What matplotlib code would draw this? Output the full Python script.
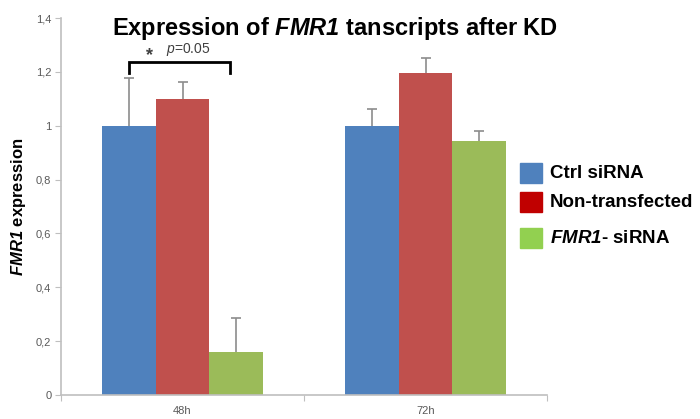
import numpy as np
import matplotlib.pyplot as plt
from matplotlib.patches import Rectangle

plt.rcParams["font.family"] = ["Liberation Sans", "DejaVu Sans"]
plt.rcParams["mathtext.fontset"] = "custom"
plt.rcParams["mathtext.rm"] = "Liberation Sans"
plt.rcParams["mathtext.it"] = "Liberation Sans:italic"
plt.rcParams["mathtext.bf"] = "Liberation Sans:bold"
plt.rcParams["mathtext.bfit"] = "Liberation Sans:italic:bold"

# data
timepoints = ["48h", "72h"]
series = ["Ctrl siRNA", "Non-transfected", "FMR1- siRNA"]
ctrl = [1.0, 1.0]
ctrl_err = [0.178, 0.062]
nontrans = [1.10, 1.196]
nontrans_err = [0.063, 0.056]
fmr1_si = [0.16, 0.945]
fmr1_si_err = [0.126, 0.035]
yticks = [0, 0.2, 0.4, 0.6, 0.8, 1.0, 1.2, 1.4]

bar_cols = ["#4F81BD", "#C0504D", "#9BBB59"]
legend_cols = ["#4F81BD", "#C00000", "#92D050"]
err_col = "#8C8C8C"
tick_col = "#595959"

fig = plt.figure(figsize=(7.0, 4.19), dpi=100)
ax = fig.add_axes([61 / 700, 24 / 419, 486 / 700, 377 / 419])

x = np.arange(len(timepoints))
w = 0.22
vals = [ctrl, nontrans, fmr1_si]
errs = [ctrl_err, nontrans_err, fmr1_si_err]
for i, (v, e) in enumerate(zip(vals, errs)):
    pos = x + (i - 1) * w
    top = np.array(v) + np.array(e)
    ax.bar(pos, v, width=w, color=bar_cols[i], edgecolor="none", zorder=2)
    # upper error only, cap at the top
    ax.vlines(pos, v, top, color=err_col, lw=1.2, zorder=3)
    ax.plot(pos, top, ls="none", marker="_", ms=7, mew=1.2, color=err_col, zorder=3)

ax.set_xlim(-0.5, 1.5)
ax.set_ylim(0, 1.4)
ax.set_yticks(yticks)
ax.set_yticklabels([("%g" % t).replace(".", ",") for t in yticks],
                   fontsize=8, color=tick_col)
ax.set_xticks([-0.5, 0.5, 1.5], minor=False)
ax.set_xticklabels([])
ax.set_xticks(x, minor=True)
ax.set_xticklabels(timepoints, minor=True, fontsize=8, color=tick_col)
ax.tick_params(axis="x", which="minor", length=0, pad=8)
ax.tick_params(axis="x", which="major", length=4, color="#BFBFBF", direction="out")
ax.tick_params(axis="y", length=4, color="#BFBFBF", pad=3)
for s in ["top", "right"]:
    ax.spines[s].set_visible(False)
for s in ["left", "bottom"]:
    ax.spines[s].set_color("#BFBFBF")
    ax.spines[s].set_linewidth(1.2)

# significance bracket
x0, x1 = x[0] - w, x[0] + 0.194
yb, yt = 1.196, 1.237
ax.plot([x0, x0, x1, x1], [yb, yt, yt, yb], color="black", lw=2,
        solid_joinstyle="miter", clip_on=False, zorder=4)
ax.text(x[0] - 0.136, 1.26, "*", ha="center", va="center", fontsize=13,
        fontweight="bold", color="#404040")
ax.text(x[0] + 0.025, 1.282, "$\\mathit{p}$=0.05", ha="center", va="center",
        fontsize=10, color="#404040")

ax.set_ylabel("$\\mathbfit{FMR1}$ expression", fontsize=12, fontweight="bold")
ax.yaxis.set_label_coords(-0.068, 0.5)

fig.text(335 / 700, 1 - 28 / 419,
         "Expression of $\\mathbfit{FMR1}$ tanscripts after KD",
         ha="center", va="center", fontsize=17, fontweight="bold")

# legend
labels = ["Ctrl siRNA", "Non-transfected", "$\\mathbfit{FMR1}$- siRNA"]
rows = [173, 202, 238]
for lab, yy, c in zip(labels, rows, legend_cols):
    fig.patches.append(Rectangle((520 / 700, 1 - (yy + 10) / 419), 22 / 700, 20 / 419,
                                 transform=fig.transFigure, color=c, figure=fig))
    fig.text(550 / 700, 1 - yy / 419, lab, ha="left", va="center",
             fontsize=13.5, fontweight="bold")

fig.savefig("out.png", dpi=100)
